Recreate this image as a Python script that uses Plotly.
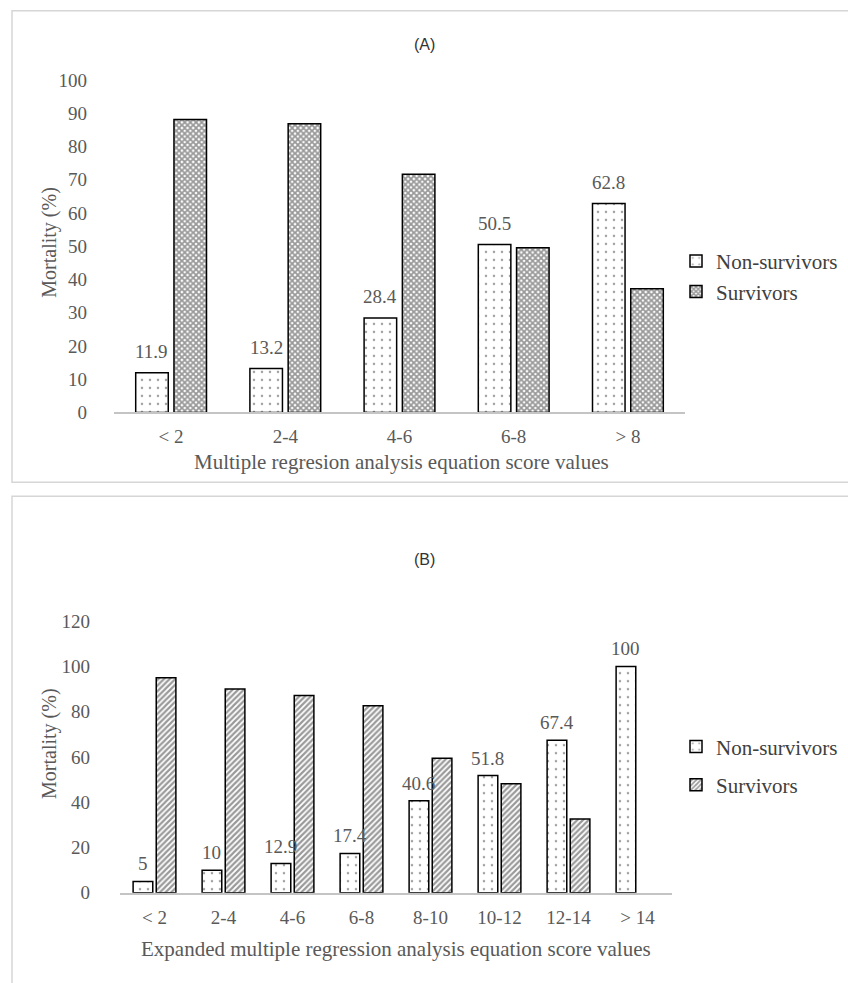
import plotly.graph_objects as go

# ---------------- data ----------------
cats_a = ["< 2", "2-4", "4-6", "6-8", "> 8"]
nonsurv_a = [11.9, 13.2, 28.4, 50.5, 62.8]
surv_a = [88.1, 86.8, 71.6, 49.5, 37.2]

cats_b = ["< 2", "2-4", "4-6", "6-8", "8-10", "10-12", "12-14", "> 14"]
nonsurv_b = [5, 10, 12.9, 17.4, 40.6, 51.8, 67.4, 100]
surv_b = [95, 90, 87.1, 82.6, 59.4, 48.2, 32.6, None]

yticks_a = list(range(0, 101, 10))
yticks_b = list(range(0, 121, 20))

# ---------------- style ----------------
W, H = 848, 983
SERIF = "Liberation Serif, Times New Roman, serif"
SANS = "Liberation Sans, Arial, sans-serif"
GRAY = "#595959"
NS_OFF, NS_W = -0.31, 0.285
SV_OFF, SV_W = 0.025, 0.285


def px_x(v):
    return v / W


def px_y(v):
    # vertical pixel target -> paper fraction (small correction for page capture)
    y = (v - 10) / 0.98
    return 1 - y / H


fig = go.Figure()

ns_pattern = dict(shape=".", fgcolor="#444444", bgcolor="white", size=8, solidity=0.08)
sv_pattern_a = dict(shape="x", fgcolor="#333333", bgcolor="white", size=4, solidity=0.7)
sv_pattern_b = dict(shape="/", fgcolor="#333333", bgcolor="white", size=4, solidity=0.55)

fig.add_trace(go.Bar(
    x=cats_a, y=nonsurv_a, name="Non-survivors", xaxis="x", yaxis="y",
    offset=NS_OFF, width=NS_W,
    marker=dict(color="white", line=dict(color="black", width=1.5), pattern=ns_pattern),
    legend="legend",
))
fig.add_trace(go.Bar(
    x=cats_a, y=surv_a, name="Survivors", xaxis="x", yaxis="y",
    offset=SV_OFF, width=SV_W,
    marker=dict(color="white", line=dict(color="black", width=1.5), pattern=sv_pattern_a),
    legend="legend",
))
fig.add_trace(go.Bar(
    x=cats_b, y=nonsurv_b, name="Non-survivors", xaxis="x2", yaxis="y2",
    offset=NS_OFF, width=NS_W, legendgroup="b1",
    marker=dict(color="white", line=dict(color="black", width=1.5), pattern=ns_pattern),
    legend="legend2",
))
fig.add_trace(go.Bar(
    x=cats_b, y=surv_b, name="Survivors", xaxis="x2", yaxis="y2",
    offset=SV_OFF, width=SV_W, legendgroup="b2",
    marker=dict(color="white", line=dict(color="black", width=1.5), pattern=sv_pattern_b),
    legend="legend2",
))

annotations = []
# value labels above non-survivor bars
for xa, ya, vals, shift in (("x", "y", nonsurv_a, 9), ("x2", "y2", nonsurv_b, 5)):
    for i, v in enumerate(vals):
        annotations.append(dict(
            x=i + NS_OFF + NS_W / 2, y=v, xref=xa, yref=ya,
            text=f"{v:g}", showarrow=False, xanchor="center", yanchor="bottom", yshift=shift,
            font=dict(family=SERIF, size=19, color=GRAY),
        ))


def note(x, y, text, size, family=SERIF, color=GRAY, angle=0):
    return dict(x=px_x(x), y=px_y(y), xref="paper", yref="paper", text=text,
                showarrow=False, xanchor="center", yanchor="middle", textangle=angle,
                font=dict(family=family, size=size, color=color))


annotations += [
    note(425, 45, "(A)", 16, SANS, "#333333"),
    note(425, 560, "(B)", 16, SANS, "#333333"),
    note(401, 463, "Multiple regresion analysis equation score values", 21),
    note(396, 950, "Expanded multiple regression analysis equation score values", 21),
    note(50, 243, "Mortality (%)", 20, angle=-90),
    note(50, 745, "Mortality (%)", 20, angle=-90),
]

shapes = [
    dict(type="rect", xref="paper", yref="paper", x0=px_x(12), x1=px_x(860),
         y0=px_y(483), y1=min(1.0, px_y(8)) - 0.0008, line=dict(color="#d6d6d6", width=1.5)),
    dict(type="rect", xref="paper", yref="paper", x0=px_x(12), x1=px_x(860),
         y0=px_y(1005), y1=px_y(497), line=dict(color="#d6d6d6", width=1.5)),
]

xaxis_common = dict(type="category", showline=True, linecolor="#c4c4c4", linewidth=2,
                    ticks="", showgrid=False, zeroline=False, ticklabelstandoff=6,
                    tickfont=dict(family=SERIF, size=19, color=GRAY))
yaxis_common = dict(showline=False, showgrid=False, zeroline=False, ticks="",
                    tickfont=dict(family=SERIF, size=19, color=GRAY))

fig.update_layout(
    width=W, height=H,
    margin=dict(l=0, r=0, t=0, b=0),
    paper_bgcolor="white", plot_bgcolor="white",
    barmode="overlay",
    xaxis=dict(domain=[px_x(114), px_x(685)], anchor="y", range=[-0.5, len(cats_a) - 0.5],
               **xaxis_common),
    yaxis=dict(domain=[px_y(413), px_y(80)], anchor="x", range=[0, 100],
               tickvals=yticks_a, ticklabelstandoff=26, **yaxis_common),
    xaxis2=dict(domain=[px_x(120), px_x(672)], anchor="y2", range=[-0.5, len(cats_b) - 0.5],
                **xaxis_common),
    yaxis2=dict(domain=[px_y(894), px_y(622)], anchor="x2", range=[0, 120],
                tickvals=yticks_b, ticklabelstandoff=29, **yaxis_common),
    legend=dict(x=px_x(676), y=1 - 236 / H, xanchor="left", yanchor="top",
                font=dict(family=SERIF, size=21, color="#404040"),
                bgcolor="rgba(0,0,0,0)", itemwidth=30),
    legend2=dict(x=px_x(676), y=1 - 732 / H, xanchor="left", yanchor="top",
                 font=dict(family=SERIF, size=21, color="#404040"),
                 bgcolor="rgba(0,0,0,0)", itemwidth=30, tracegroupgap=8),
    annotations=annotations,
    shapes=shapes,
    showlegend=True,
)

fig.write_html(
    "out.html",
    config={"displayModeBar": False},
    post_script=(
        "document.documentElement.style.margin='0';"
        "document.documentElement.style.padding='0';"
        "document.documentElement.style.overflow='hidden';"
        "document.body.style.margin='0';"
        "document.body.style.padding='0';"
        "document.body.style.overflow='hidden';"
    ),
)
